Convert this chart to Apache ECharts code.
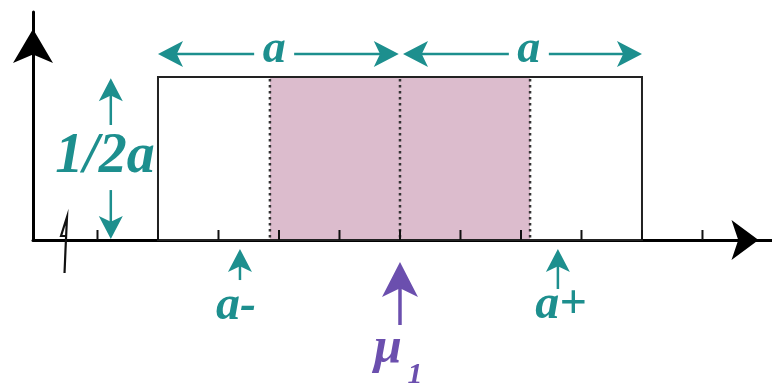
<!DOCTYPE html>
<html>
<head>
<meta charset="utf-8">
<style>
html, body { margin: 0; padding: 0; background: #fff; }
#main { width: 772px; height: 385px; }
</style>
<script src="https://cdn.jsdelivr.net/npm/echarts@6/dist/echarts.min.js"></script>
</head>
<body>
<div id="main"></div>
<script>
// uniform density of width 2a centred on mu, central band shaded
var mu = 0;
var a = 4;
var density = 1 / (2 * a);
var xRange = [-6.066, 6.149];
var yRange = [0, 0.17485];
var ticks = [-5, -4, -3, -2, -1, 0, 1, 2, 3, 4, 5];
var band = [-2.15, 2.15];
var dotted = [-2.15, 0, 2.15];

// width arrows: [x from, x to, label x, y]
var spans = [
  [mu - a, mu - 0.02, -2.08, 0.1426],
  [mu + 0.05, mu + a, 2.13, 0.1426]
];
// arrows: [x tail, y tail, x tip, y tip]
var tealArrows = [
  [-4.78, 0.0882, -4.78, 0.1240],
  [-4.78, 0.0383, -4.78, 0.0008],
  [-2.645, -0.0307, -2.645, -0.0069],
  [2.61, -0.0376, 2.61, -0.0069]
];
var muArrows = [[mu, -0.0652, mu, -0.0169]];
// labels: [x, y] (centre of the text)
var tealLabels = [[-2.08, 0.1456], [2.13, 0.1456], [-4.876, 0.0629], [-2.71, -0.0514], [2.66, -0.0506]];
var tealTexts = ['a', 'a', '1/2a', 'a-', 'a+'];
var muLabels = [[-0.2, -0.0836], [0.25, -0.1035]];
var muTexts = ['\u03bc', '1'];
// axis break mark
var breakMark = [[-5.504, 0.00307], [-5.603, 0.00307], [-5.504, 0.01764], [-5.529, -0.00767], [-5.545, -0.02531]];

var teal = '#1d8f8e';
var purple = '#6b4fae';
var serif = 'Liberation Serif';
var tealSizes = [46, 46, 56, 48, 48];
var muSizes = [50, 30];

function arrow(tail, tip, L, W, color, lw) {
  var dx = tip[0] - tail[0], dy = tip[1] - tail[1];
  var len = Math.sqrt(dx * dx + dy * dy);
  var ux = dx / len, uy = dy / len, nx = -uy, ny = ux;
  var bx = tip[0] - ux * L, by = tip[1] - uy * L;
  return [
    { type: 'line', shape: { x1: tail[0], y1: tail[1], x2: tip[0] - ux * L * 0.6, y2: tip[1] - uy * L * 0.6 },
      style: { stroke: color, lineWidth: lw } },
    { type: 'polygon', shape: { points: [tip, [bx + nx * W, by + ny * W], [tip[0] - ux * L * 0.75, tip[1] - uy * L * 0.75], [bx - nx * W, by - ny * W]] },
      style: { fill: color } }
  ];
}

var myChart = echarts.init(document.getElementById('main'));

var option = {
  grid: { left: 33, right: 0, top: 12, bottom: 145 },
  xAxis: {
    type: 'value', min: xRange[0], max: xRange[1],
    axisLine: { show: true, symbol: ['none', 'arrow'], symbolSize: [30, 27], symbolOffset: [0, -13.5],
      lineStyle: { color: '#000', width: 3 } },
    axisTick: { show: false }, axisLabel: { show: false }, splitLine: { show: false }
  },
  yAxis: {
    type: 'value', min: yRange[0], max: yRange[1],
    axisLine: { show: true, onZero: false, symbol: ['none', 'arrow'], symbolSize: [30, 34], symbolOffset: [0, -17],
      lineStyle: { color: '#000', width: 3 } },
    axisTick: { show: false }, axisLabel: { show: false }, splitLine: { show: false }
  },
  series: [
    {
      // shaded band
      type: 'custom', clip: false, z: 1, animation: false,
      data: [[band[0], band[1], density]],
      renderItem: function (params, api) {
        var p0 = api.coord([api.value(0), api.value(2)]);
        var p1 = api.coord([api.value(1), 0]);
        return { type: 'rect', shape: { x: p0[0], y: p0[1], width: p1[0] - p0[0], height: p1[1] - p0[1] },
          style: { fill: '#dcbccd' } };
      }
    },
    {
      type: 'custom', clip: false, z: 2, animation: false,
      data: dotted.map(function (x) { return [x, density]; }),
      renderItem: function (params, api) {
        var p0 = api.coord([api.value(0), api.value(1)]);
        var p1 = api.coord([api.value(0), 0]);
        return { type: 'line', shape: { x1: p0[0], y1: p0[1] + 2, x2: p1[0], y2: p1[1] },
          style: { stroke: '#333', lineWidth: 2.5, lineDash: [2.5, 3.5] } };
      }
    },
    {
      // density rectangle
      type: 'custom', clip: false, z: 3, animation: false,
      data: [[mu - a, mu + a, density]],
      renderItem: function (params, api) {
        var p0 = api.coord([api.value(0), api.value(2)]);
        var p1 = api.coord([api.value(1), 0]);
        return { type: 'rect', shape: { x: p0[0], y: p0[1], width: p1[0] - p0[0], height: p1[1] - p0[1] },
          style: { fill: 'none', stroke: '#222', lineWidth: 2 } };
      }
    },
    {
      type: 'custom', clip: false, z: 4, animation: false,
      data: ticks.map(function (x) { return [x]; }),
      renderItem: function (params, api) {
        var p = api.coord([api.value(0), 0]);
        return { type: 'line', shape: { x1: p[0], y1: p[1], x2: p[0], y2: p[1] - 10 },
          style: { stroke: '#111', lineWidth: 2 } };
      }
    },
    {
      type: 'custom', clip: false, z: 5, animation: false,
      data: [0],
      renderItem: function (params, api) {
        var pts = breakMark.map(function (d) { return api.coord(d); });
        return { type: 'polyline', shape: { points: pts }, style: { stroke: '#111', lineWidth: 2.2, fill: 'none' } };
      }
    },
    {
      // top width arrows, split round the label a
      type: 'custom', clip: false, z: 6, animation: false,
      data: spans,
      renderItem: function (params, api) {
        var from = api.coord([api.value(0), api.value(3)]);
        var to = api.coord([api.value(1), api.value(3)]);
        var lab = api.coord([api.value(2), api.value(3)]);
        var kids = arrow([lab[0] - 20, lab[1]], from, 25, 13, teal, 2.5)
          .concat(arrow([lab[0] + 20, lab[1]], to, 25, 13, teal, 2.5));
        return { type: 'group', children: kids };
      }
    },
    {
      type: 'custom', clip: false, z: 6, animation: false,
      data: tealArrows,
      renderItem: function (params, api) {
        var tail = api.coord([api.value(0), api.value(1)]);
        var tip = api.coord([api.value(2), api.value(3)]);
        return { type: 'group', children: arrow(tail, tip, 23, 12, teal, 2.5) };
      }
    },
    {
      type: 'custom', clip: false, z: 6, animation: false,
      data: muArrows,
      renderItem: function (params, api) {
        var tail = api.coord([api.value(0), api.value(1)]);
        var tip = api.coord([api.value(2), api.value(3)]);
        return { type: 'group', children: arrow(tail, tip, 35, 18, purple, 3.5) };
      }
    }
  ]
};

myChart.setOption(option);

// labels: placed through the grid's scales, left/top aligned and centred by hand
var measure = document.createElement('canvas').getContext('2d');
function textAt(p, text, size, color) {
  var px = myChart.convertToPixel({ gridIndex: 0 }, p);
  measure.font = 'italic bold ' + size + 'px ' + serif;
  var w = measure.measureText(text).width;
  return { type: 'text', x: px[0] - w / 2, y: px[1] - size / 2,
    style: { text: text, fill: color, fontFamily: serif, fontStyle: 'italic', fontWeight: 'bold', fontSize: size } };
}
var texts = tealLabels.map(function (p, i) { return textAt(p, tealTexts[i], tealSizes[i], teal); })
  .concat(muLabels.map(function (p, i) { return textAt(p, muTexts[i], muSizes[i], purple); }));
myChart.setOption({ graphic: [{ type: 'group', children: texts }] });
</script>
</body>
</html>
